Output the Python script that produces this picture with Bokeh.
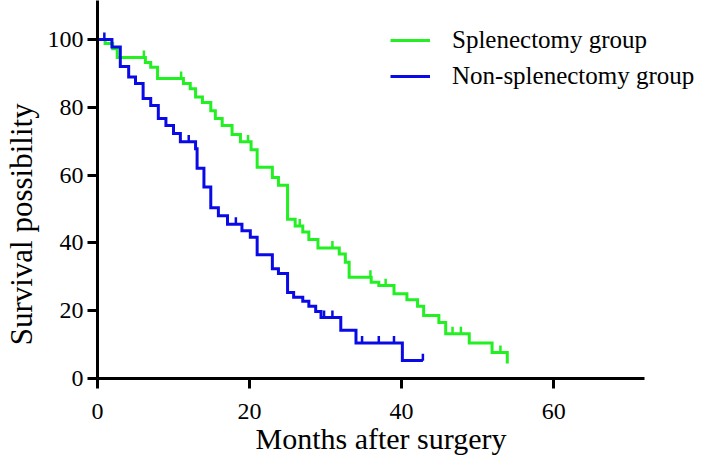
import numpy as np
from bokeh.plotting import figure
from bokeh.models import Range1d, Legend, LegendItem, FixedTicker
from bokeh.embed import file_html
from bokeh.resources import INLINE

# ---------------- data ----------------
spl_times = [0, 1.0, 2.0, 2.6, 6.3, 7.0, 7.9, 11.3, 12.2, 12.9, 13.8, 14.9, 15.5, 16.4,
             17.7, 18.8, 20.2, 21.0, 23.0, 23.8, 25.0, 26.0, 27.0, 27.8, 29.0, 31.8,
             32.6, 33.1, 36.0, 37.0, 39.0, 40.7, 42.1, 42.9, 44.9, 45.8, 48.9, 51.9, 53.9]
spl_surv = [100, 98.8, 97.3, 94.7, 93.2, 91.8, 88.5, 87.0, 85.5, 83.0, 81.4, 79.0, 76.7, 74.6,
            72.0, 69.8, 67.5, 62.3, 59.3, 57.0, 47.0, 45.0, 43.2, 41.0, 38.5, 36.7,
            34.3, 29.9, 28.4, 27.4, 25.0, 23.2, 21.3, 18.6, 16.5, 13.2, 10.5, 7.7, 4.4]
spl_censor = [6.1, 11.0, 19.8, 26.6, 30.9, 35.9, 37.9, 46.7, 47.8, 53.0]

non_times = [0, 1.9, 3.0, 4.1, 5.0, 6.0, 7.0, 8.0, 9.0, 10.0, 10.9, 12.9, 13.1, 14.0,
             14.9, 15.9, 17.1, 19.0, 20.1, 21.0, 23.0, 23.8, 25.0, 25.8, 27.0, 27.8,
             28.7, 29.4, 32.0, 34.0, 40.1]
non_surv = [100, 97.8, 92.0, 88.9, 87.0, 82.6, 80.5, 76.7, 74.6, 72.3, 69.8, 67.8, 62.0, 56.5,
            50.4, 48.0, 45.5, 43.6, 41.7, 36.5, 32.4, 31.0, 25.4, 24.0, 22.8, 21.3,
            19.8, 18.0, 14.2, 10.5, 5.3]
non_censor = [0.9, 12.0, 18.2, 29.8, 30.9, 34.8, 37.0, 39.0, 42.8]

series_names = ["Splenectomy group", "Non-splenectomy group"]
x_ticks = [0, 20, 40, 60]
y_ticks = [0, 20, 40, 60, 80, 100]
x_axis_end = 72
x_title = "Months after surgery"
y_title = "Survival possibility"

# ---------------- styles ----------------
GREEN = "#22F022"
BLUE = "#0A0AE6"
FONT = "Liberation Serif"
TICK_H = 2.0          # censor tick height in data units
TICK_PX = 7           # same height in pixels
NBSP = "\u00a0"       # trailing padding shifts the centred axis titles like the reference

p = figure(width=709, height=460, output_backend="svg", toolbar_location=None,
           x_range=Range1d(0, 80.5), y_range=Range1d(0, 111.5),
           min_border_left=97, min_border_right=0, min_border_top=0, min_border_bottom=82)
p.outline_line_color = None
p.xgrid.visible = False
p.ygrid.visible = False
p.background_fill_color = "white"

for ax in (p.xaxis[0], p.yaxis[0]):
    ax.axis_line_width = 3
    ax.axis_line_color = "black"
    ax.major_tick_line_width = 3
    ax.major_tick_line_color = "black"
    ax.major_tick_out = 10
    ax.major_tick_in = 0
    ax.minor_tick_line_color = None
    ax.major_label_text_font = FONT
    ax.major_label_text_font_size = "24px"
    ax.major_label_text_color = "black"
    ax.axis_label_text_font = FONT
    ax.axis_label_text_font_style = "normal"
    ax.axis_label_text_color = "black"

p.xaxis.axis_label_text_font_size = "30px"
p.yaxis.axis_label_text_font_size = "31px"
p.xaxis.ticker = FixedTicker(ticks=x_ticks)
p.yaxis.ticker = FixedTicker(ticks=y_ticks)
p.xaxis.bounds = (0, x_axis_end)
p.xaxis.axis_label = x_title + NBSP * 6
p.yaxis.axis_label = y_title + NBSP * 9
p.xaxis.major_label_standoff = 15
p.yaxis.major_label_standoff = 4
p.xaxis.axis_label_standoff = 0
p.yaxis.axis_label_standoff = 6


def km_curve(times, surv, censor, color):
    t = np.asarray(times, float)
    s = np.asarray(surv, float)
    c = np.asarray(censor, float)
    end = max(t[-1], c.max())
    xs = np.append(t, end)
    ys = np.append(s, s[-1])
    line = p.step(xs, ys, mode="after", line_color=color, line_width=3, line_join="miter")
    idx = np.searchsorted(t, c, side="right") - 1
    cs = s[idx]
    mark = p.scatter(x=c, y=cs + TICK_H / 2, marker="dash", angle=np.pi / 2, size=TICK_PX,
                     line_color=color, line_width=2.5)
    return line, mark


g_line, g_mark = km_curve(spl_times, spl_surv, spl_censor, GREEN)
b_line, b_mark = km_curve(non_times, non_surv, non_censor, BLUE)

legend = Legend(items=[LegendItem(label=series_names[0], renderers=[g_line, g_mark]),
                       LegendItem(label=series_names[1], renderers=[b_line, b_mark])],
                location=(293, 284), orientation="vertical",
                label_text_font=FONT, label_text_font_size="25px", label_text_color="black",
                glyph_width=40, glyph_height=36, label_height=36, spacing=0,
                label_standoff=22, padding=0, margin=0,
                border_line_color=None, background_fill_alpha=0)
p.add_layout(legend, "center")

open("out.html", "w").write(file_html(p, INLINE))
